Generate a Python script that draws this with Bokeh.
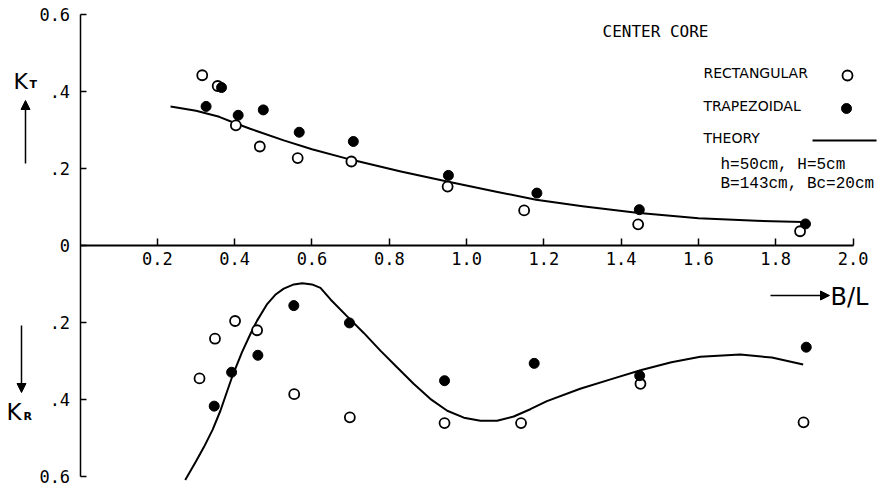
from bokeh.plotting import figure
from bokeh.models import (Range1d, LinearAxis, FixedTicker, NumeralTickFormatter,
                          Label, Arrow, NormalHead, ColumnDataSource)
from bokeh.embed import file_html
from bokeh.resources import INLINE

# ---------------- data ----------------
# Transmission coefficient K_T (upper half)
kt_rect_x = [0.316, 0.356, 0.403, 0.465, 0.563, 0.702, 0.951, 1.149, 1.444, 1.863]
kt_rect_y = [0.442, 0.414, 0.312, 0.257, 0.227, 0.218, 0.153, 0.091, 0.055, 0.037]
kt_trap_x = [0.326, 0.366, 0.409, 0.474, 0.567, 0.707, 0.953, 1.182, 1.447, 1.877]
kt_trap_y = [0.361, 0.410, 0.338, 0.352, 0.294, 0.270, 0.182, 0.136, 0.093, 0.056]
kt_theory_x = [0.234, 0.30, 0.36, 0.40, 0.44, 0.527, 0.60, 0.70, 0.83, 0.95, 1.08,
               1.18, 1.30, 1.44, 1.60, 1.75, 1.87]
kt_theory_y = [0.361, 0.350, 0.334, 0.318, 0.303, 0.273, 0.250, 0.223, 0.192, 0.166,
               0.139, 0.119, 0.102, 0.085, 0.071, 0.064, 0.061]

# Reflection coefficient K_R (lower half, plotted downward)
kr_rect_x = [0.309, 0.349, 0.401, 0.458, 0.554, 0.698, 0.943, 1.141, 1.450, 1.872]
kr_rect_y = [0.345, 0.242, 0.196, 0.220, 0.386, 0.446, 0.461, 0.461, 0.359, 0.459]
kr_trap_x = [0.347, 0.392, 0.460, 0.553, 0.697, 0.943, 1.175, 1.448, 1.879]
kr_trap_y = [0.417, 0.329, 0.285, 0.156, 0.201, 0.351, 0.306, 0.338, 0.264]
kr_theory_x = [0.272, 0.30, 0.320, 0.343, 0.363, 0.393, 0.419, 0.441, 0.458, 0.484,
               0.505, 0.527, 0.553, 0.575, 0.60, 0.622, 0.648, 0.691, 0.734, 0.777,
               0.82, 0.863, 0.906, 0.95, 0.993, 1.036, 1.079, 1.122, 1.165, 1.208,
               1.294, 1.381, 1.45, 1.53, 1.605, 1.708, 1.79, 1.871]
kr_theory_y = [0.609, 0.560, 0.524, 0.478, 0.429, 0.342, 0.277, 0.229, 0.195, 0.152,
               0.128, 0.112, 0.101, 0.098, 0.101, 0.110, 0.140, 0.184, 0.227, 0.273,
               0.316, 0.359, 0.398, 0.429, 0.447, 0.455, 0.455, 0.444, 0.425, 0.404,
               0.372, 0.345, 0.324, 0.303, 0.289, 0.283, 0.291, 0.309]

x_ticks = [0.2, 0.4, 0.6, 0.8, 1.0, 1.2, 1.4, 1.6, 1.8, 2.0]
y_ticks = [0.6, 0.4, 0.2, 0.0, -0.2, -0.4, -0.6]
y_tick_labels = ["0.6", ".4", ".2", "0", ".2", ".4", "0.6"]

# ---------------- figure ----------------
W, H = 890, 495
X0, X1 = -0.206, 2.097
Y0, Y1 = -0.649, 0.636


def sx(px):
    return X0 + px / W * (X1 - X0)


def sy(py):
    return Y1 - py / H * (Y1 - Y0)


p = figure(width=W, height=H, x_range=Range1d(X0, X1), y_range=Range1d(Y0, Y1),
           output_backend="svg", toolbar_location=None, min_border=0,
           x_axis_type=None, y_axis_type=None, outline_line_color=None,
           background_fill_color="white", border_fill_color="white")
p.xgrid.visible = False
p.ygrid.visible = False

tick_font = "DejaVu Sans Mono"

xa = LinearAxis(fixed_location=0, ticker=FixedTicker(ticks=x_ticks),
                formatter=NumeralTickFormatter(format="0.0"),
                bounds=(0, 2.0), major_tick_in=7, major_tick_out=0,
                minor_tick_in=0, minor_tick_out=0, axis_line_width=2,
                major_tick_line_width=1.5, major_label_standoff=7,
                major_label_text_font=tick_font, major_label_text_font_size="17px",
                major_label_text_color="black")
p.add_layout(xa, "below")

ya = LinearAxis(fixed_location=0, ticker=FixedTicker(ticks=y_ticks),
                major_label_overrides={v: s for v, s in zip(y_ticks, y_tick_labels)},
                bounds=(-0.6, 0.6), major_tick_in=6, major_tick_out=0,
                minor_tick_in=0, minor_tick_out=0, axis_line_width=1.5,
                major_tick_line_width=1.5, major_label_standoff=10,
                major_label_text_font=tick_font, major_label_text_font_size="17px",
                major_label_text_color="black")
p.add_layout(ya, "left")

# theory curves
p.line(kt_theory_x, kt_theory_y, line_color="black", line_width=2, line_join="round")
p.line(kr_theory_x, [-v for v in kr_theory_y], line_color="black", line_width=2,
       line_join="round")

# data points
p.scatter(kt_rect_x, kt_rect_y, marker="circle", size=10, fill_color="white",
          line_color="black", line_width=1.8)
p.scatter(kt_trap_x, kt_trap_y, marker="circle", size=10, fill_color="black",
          line_color="black")
p.scatter(kr_rect_x, [-v for v in kr_rect_y], marker="circle", size=10,
          fill_color="white", line_color="black", line_width=1.8)
p.scatter(kr_trap_x, [-v for v in kr_trap_y], marker="circle", size=10,
          fill_color="black", line_color="black")

# ---------------- legend / annotations ----------------
def lab(text, px, py, font="DejaVu Sans", size="14px", align="left", style="normal"):
    p.add_layout(Label(x=sx(px), y=sy(py), text=text, text_font=font,
                       text_font_size=size, text_align=align, text_baseline="middle",
                       text_color="black", text_font_style=style))


lab("CENTER CORE", 602, 31, font="DejaVu Sans Mono", size="16px")
lab("RECTANGULAR", 703, 72)
lab("TRAPEZOIDAL", 703, 105)
lab("THEORY", 703, 137)
lab("h=50cm, H=5cm", 720, 164, font="Liberation Mono", size="16px")
lab("B=143cm, Bc=20cm", 720, 183, font="Liberation Mono", size="16px")

leg = ColumnDataSource(dict(x=[sx(847)], y=[sy(75)]))
p.scatter("x", "y", source=leg, marker="circle", size=10, fill_color="white",
          line_color="black", line_width=1.8)
leg2 = ColumnDataSource(dict(x=[sx(846)], y=[sy(108)]))
p.scatter("x", "y", source=leg2, marker="circle", size=10, fill_color="black",
          line_color="black")
p.line([sx(812), sx(876)], [sy(140), sy(140)], line_color="black", line_width=2)

# axis titles
lab("K", 13, 81, size="22px")
lab("T", 29, 84, size="11px", style="bold")
lab("K", 6, 411, size="23px")
lab("R", 23, 416, size="11px", style="bold")
lab("B/L", 830, 296, size="24px")

p.add_layout(Arrow(x_start=sx(25), y_start=sy(163), x_end=sx(25), y_end=sy(100),
                   line_width=1.5, end=NormalHead(size=9, fill_color="black")))
p.add_layout(Arrow(x_start=sx(21), y_start=sy(325), x_end=sx(21), y_end=sy(392),
                   line_width=1.5, end=NormalHead(size=9, fill_color="black")))
p.add_layout(Arrow(x_start=sx(770), y_start=sy(295), x_end=sx(829), y_end=sy(295),
                   line_width=1.5, end=NormalHead(size=9, fill_color="black")))

open("out.html", "w").write(file_html(p, INLINE))
